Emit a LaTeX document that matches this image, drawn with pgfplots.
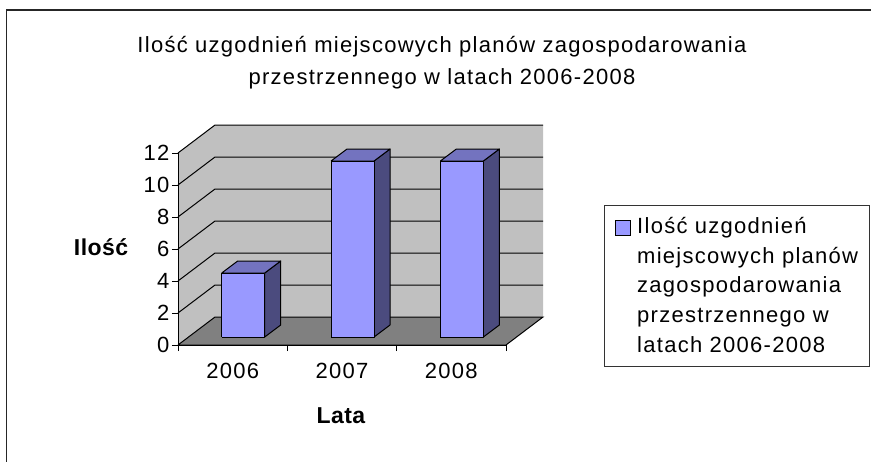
\documentclass[border=0pt]{standalone}
\usepackage{pgfplots}
\pgfplotsset{compat=1.18}
\usepackage{fontspec}
\setmainfont{Liberation Sans}[LetterSpace=5.8]
\newfontfamily\labfont{Liberation Sans}[LetterSpace=2]
\definecolor{wallgray}{HTML}{C0C0C0}
\definecolor{floorgray}{HTML}{808080}
\definecolor{barfrontc}{HTML}{9999FF}
\definecolor{bartopc}{HTML}{7373BF}
\definecolor{barsidec}{HTML}{4B4B7E}
\newcommand\txt{\fontsize{22bp}{26bp}\selectfont}
\newcommand\labtxt{\fontsize{23bp}{27bp}\selectfont}
\pgfplotsset{
  barfront/.style={fill=barfrontc, draw=black, line width=1bp, line join=round},
  bartop/.style={fill=bartopc, draw=black, line width=1bp, line join=round},
  barside/.style={fill=barsidec, draw=black, line width=1bp, line join=round},
}
% #1 = category index (0,1,2), #2 = value
\newcommand\threedbar[2]{%
  \pgfmathsetmacro\xa{#1+0.4}%
  \pgfmathsetmacro\xb{#1+0.7933}%
  \pgfmathsetmacro\xc{#1+0.9396}%
  \pgfmathsetmacro\xd{#1+0.5463}%
  \pgfmathsetmacro\yt{#2+0.5}%
  \pgfmathsetmacro\ytb{#2+1.25}%
  \edef\barcmd{%
    \noexpand\addplot[barside] coordinates {(\xb,0.5) (\xc,1.25) (\xc,\ytb) (\xb,\yt) (\xb,0.5)};
    \noexpand\addplot[bartop] coordinates {(\xa,\yt) (\xb,\yt) (\xc,\ytb) (\xd,\ytb) (\xa,\yt)};
    \noexpand\addplot[barfront] coordinates {(\xa,0.5) (\xb,0.5) (\xb,\yt) (\xa,\yt) (\xa,0.5)};
  }\barcmd}
\begin{document}
\begin{tikzpicture}
\useasboundingbox (0,0) rectangle (871bp,-462bp);
\fill[white] (0,0) rectangle (871bp,-462bp);
\draw[line width=1.6bp, black!85] (6.5bp,-462bp) -- (6.5bp,-10bp) -- (871bp,-10bp);
\begin{axis}[
  at={(178bp,-345bp)}, anchor=south west,
  scale only axis, width=328bp, height=192bp,
  xmin=0, xmax=3, ymin=0, ymax=12,
  clip=false, axis on top,
  axis x line*=bottom, axis y line*=left,
  axis line style={black, line width=1bp},
  xtick={0.5,1.5,2.5}, xticklabels={2006,2007,2008},
  minor xtick={0,1,2,3},
  major x tick style={draw=none},
  ytick={0,2,...,12},
  tick align=outside,
  major tick length=6bp, minor tick length=6bp,
  tick style={black, line width=1bp},
  every tick label/.append style={font=\txt},
  /pgf/number format/assume math mode=true,
  xticklabel style={anchor=base, yshift=-27bp},
  yticklabel style={xshift=1bp},
  xlabel={\labfont\bfseries Lata},
  ylabel={\labfont\bfseries Ilość},
  every axis x label/.style={at={(axis cs:1.49,-4.9)}, anchor=base, font=\labtxt},
  every axis y label/.style={at={(axis cs:-0.704,5.58)}, anchor=base, font=\labtxt},
  no markers,
]
% walls
\addplot[fill=wallgray, draw=none] coordinates {(0,0) (0.3384,1.75) (0.3384,13.75) (0,12) (0,0)};
\addplot[fill=wallgray, draw=none] coordinates {(0.3384,1.75) (3.3384,1.75) (3.3384,13.75) (0.3384,13.75) (0.3384,1.75)};
% gridlines
\addplot[black, line width=1bp] coordinates {(0,2) (0.3384,3.75) (3.3384,3.75)};
\addplot[black, line width=1bp] coordinates {(0,4) (0.3384,5.75) (3.3384,5.75)};
\addplot[black, line width=1bp] coordinates {(0,6) (0.3384,7.75) (3.3384,7.75)};
\addplot[black, line width=1bp] coordinates {(0,8) (0.3384,9.75) (3.3384,9.75)};
\addplot[black, line width=1bp] coordinates {(0,10) (0.3384,11.75) (3.3384,11.75)};
\addplot[black, line width=1bp] coordinates {(0,12) (0.3384,13.75) (3.3384,13.75)};
% floor
\addplot[fill=floorgray, draw=black, line width=1bp] coordinates {(0,0) (3,0) (3.3384,1.75) (0.3384,1.75) (0,0)};
% bars: 2006, 2007, 2008
\threedbar{0}{4}
\threedbar{1}{11}
\threedbar{2}{11}
\end{axis}
% title
\node[anchor=base, font=\txt, inner sep=0pt] at (442bp,-52bp) {Ilość uzgodnień miejscowych planów zagospodarowania};
\node[anchor=base, font=\txt, inner sep=0pt] at (442bp,-84bp) {przestrzennego w latach 2006-2008};
% legend
\draw[black!80, line width=1bp] (604bp,-205bp) rectangle (869.5bp,-366bp);
\draw[black, line width=0.8bp, fill=barfrontc] (615bp,-220bp) rectangle (630bp,-235bp);
\node[anchor=base west, font=\txt, inner sep=0pt] at (637bp,-233bp) {Ilość uzgodnień};
\node[anchor=base west, font=\txt, inner sep=0pt] at (637bp,-263bp) {miejscowych planów};
\node[anchor=base west, font=\txt, inner sep=0pt] at (637bp,-292.5bp) {zagospodarowania};
\node[anchor=base west, font=\txt, inner sep=0pt] at (637bp,-322bp) {przestrzennego w};
\node[anchor=base west, font=\txt, inner sep=0pt] at (637bp,-352bp) {latach 2006-2008};
\end{tikzpicture}
\end{document}
